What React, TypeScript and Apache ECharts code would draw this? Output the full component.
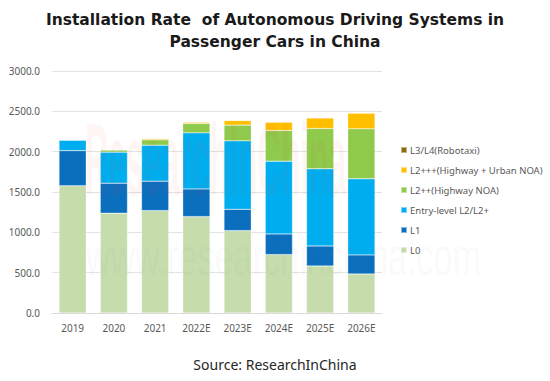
import React, { useEffect, useRef } from "react";
import * as echarts from "echarts";

const categories = ["2019", "2020", "2021", "2022E", "2023E", "2024E", "2025E", "2026E"];
const l0 = [1578, 1237, 1269, 1195, 1021, 724, 583, 484];
const l1 = [435, 372, 365, 343, 265, 256, 248, 236];
const entryL2 = [132, 385, 446, 695, 848, 902, 956, 943];
const l2pp = [0, 28, 67, 116, 195, 380, 500, 620];
const l2ppp = [0, 0, 15, 17, 57, 104, 132, 195];
const l34 = [0, 0, 0, 0, 0, 0, 0, 0];
const yTicks = [0, 500, 1000, 1500, 2000, 2500, 3000];

const seriesNames = [
  "L0",
  "L1",
  "Entry-level L2/L2+",
  "L2++(Highway NOA)",
  "L2+++(Highway + Urban NOA)",
  "L3/L4(Robotaxi)",
];
const seriesData = [l0, l1, entryL2, l2pp, l2ppp, l34];
const colors = ["#c6dcac", "#0b6fbe", "#00adef", "#8fca4c", "#ffbf00", "#8a6a10"];

export default function App() {
  const ref = useRef<HTMLDivElement>(null);
  useEffect(() => {
    document.body.style.margin = "0";
    if (!ref.current) return;
    const chart = echarts.init(ref.current, null, { renderer: "svg" });
    chart.setOption({
      animation: false,
      backgroundColor: "#ffffff",
      title: [
        {
          text: "Installation Rate  of Autonomous Driving Systems in\nPassenger Cars in China",
          left: "center",
          top: 4,
          textStyle: {
            fontFamily: "DejaVu Sans",
            fontWeight: "bold",
            fontSize: 15.5,
            lineHeight: 22,
            color: "#1a1a1a",
          },
        },
        {
          text: "Source: ResearchInChina",
          left: "center",
          top: 352,
          textStyle: {
            fontFamily: "Noto Sans",
            fontWeight: "normal",
            fontSize: 14,
            color: "#262626",
          },
        },
      ],
      legend: {
        orient: "vertical",
        left: 395,
        top: 138,
        itemWidth: 6,
        itemHeight: 6,
        itemGap: 6,
        icon: "rect",
        data: [...seriesNames].reverse(),
        textStyle: {
          fontFamily: "Noto Sans",
          fontSize: 9.5,
          lineHeight: 14,
          color: "#595959",
          padding: [0, 0, 0, -2],
        },
      },
      grid: { left: 52, right: 168, top: 71, bottom: 68 },
      xAxis: {
        type: "category",
        data: categories,
        axisLine: { lineStyle: { color: "#d9d9d9" } },
        axisTick: { show: false },
        axisLabel: {
          fontFamily: "Noto Sans",
          fontSize: 10,
          color: "#595959",
          margin: 10,
        },
      },
      yAxis: {
        type: "value",
        min: yTicks[0],
        max: yTicks[yTicks.length - 1],
        interval: 500,
        axisLine: { show: false },
        axisTick: { show: false },
        splitLine: { lineStyle: { color: "#e3e3e3" } },
        axisLabel: {
          fontFamily: "Noto Sans",
          fontSize: 10,
          color: "#595959",
          margin: 12,
          formatter: (v: number) => v.toFixed(1),
        },
      },
      series: seriesData.map((d, i) => ({
        name: seriesNames[i],
        type: "bar",
        stack: "total",
        data: d,
        barWidth: "66%",
        itemStyle: { color: colors[i], borderColor: "rgba(255,255,255,0.5)", borderWidth: 0.5 },
      })),
      graphic: [
        {
          type: "text",
          left: 85,
          top: 108,
          scaleY: 3.2,
          silent: true,
          z: 100,
          style: {
            text: "ResearchInChina",
            fontFamily: "Liberation Sans",
            fontWeight: "bold",
            fontSize: 32,
            fill: "rgba(230,60,60,0.05)",
          },
        },
        {
          type: "text",
          left: 86,
          top: 232,
          scaleY: 1.5,
          silent: true,
          z: 100,
          style: {
            text: "www.researchinchina.com",
            fontFamily: "Liberation Sans",
            fontSize: 34,
            fill: "rgba(120,120,120,0.05)",
          },
        },
      ],
    });
    return () => chart.dispose();
  }, []);
  return <div ref={ref} style={{ width: 550, height: 381 }} />;
}
